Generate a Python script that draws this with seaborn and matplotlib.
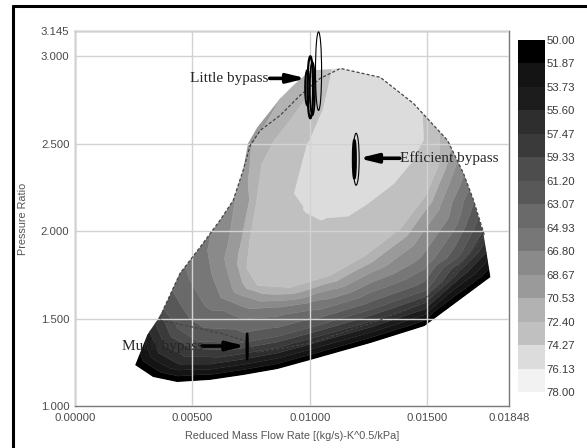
import numpy as np
import matplotlib
matplotlib.use("Agg")
import matplotlib.pyplot as plt
import matplotlib.tri as mtri
from matplotlib.colors import ListedColormap, BoundaryNorm
from matplotlib.cm import ScalarMappable
from matplotlib.patches import Polygon, Ellipse
from matplotlib.lines import Line2D
import seaborn as sns

sns.set_theme(style="white")
plt.rcParams["font.family"] = ["Liberation Sans", "DejaVu Sans"]

# ---------------------------------------------------------------- data
# isentropic efficiency bands (%)
eff_levels = [50.00, 51.87, 53.73, 55.60, 57.47, 59.33, 61.20, 63.07,
              64.93, 66.80, 68.67, 70.53, 72.40, 74.27, 76.13, 78.00]

# compressor map outline: reduced mass flow, pressure ratio, efficiency
outline_flow = [0.00256, 0.00332, 0.00435, 0.00575, 0.00716, 0.00861, 0.01002,
                0.01258, 0.01488, 0.01769, 0.01739, 0.01697, 0.01654, 0.01586,
                0.01441, 0.01300, 0.01130, 0.01002, 0.00934, 0.00874, 0.00776,
                0.00737, 0.00716, 0.00674, 0.00618, 0.00533, 0.00448, 0.00375,
                0.00350, 0.00307]
outline_pr = [1.234, 1.166, 1.137, 1.149, 1.177, 1.211, 1.263, 1.360, 1.457,
              1.737, 1.989, 2.177, 2.331, 2.520, 2.731, 2.880, 2.931, 2.920,
              2.840, 2.760, 2.594, 2.503, 2.349, 2.177, 2.063, 1.909, 1.760,
              1.549, 1.491, 1.406]
outline_eff = [50.0, 50.0, 50.0, 50.0, 50.0, 50.0, 50.0, 50.0, 50.0, 50.0,
               59.0, 63.3, 67.0, 71.5, 75.3, 75.8, 75.2, 72.0, 71.0, 70.5,
               70.0, 70.0, 69.5, 68.5, 67.5, 66.0, 64.5, 61.0, 58.0, 54.5]

# iso-efficiency traces inside the map
flow_56 = [0.00320, 0.00362, 0.00448, 0.00575, 0.00716, 0.00861, 0.01002,
           0.01258, 0.01488, 0.01662, 0.01752]
pr_56 = [1.434, 1.309, 1.246, 1.246, 1.274, 1.309, 1.360, 1.457, 1.560,
         1.766, 1.891]

flow_62 = [0.00388, 0.00448, 0.00533, 0.00716, 0.00861, 0.01002, 0.01258,
           0.01488, 0.01620, 0.01709]
pr_62 = [1.589, 1.463, 1.389, 1.377, 1.411, 1.463, 1.566, 1.674, 1.857, 2.114]

flow_66 = [0.00554, 0.00597, 0.00725, 0.00861, 0.01002, 0.01258, 0.01488,
           0.01607, 0.01667]
pr_66 = [1.749, 1.606, 1.537, 1.549, 1.577, 1.680, 1.823, 2.051, 2.286]

flow_695 = [0.00725, 0.00695, 0.00669, 0.00703, 0.00810, 0.00959, 0.01130,
            0.01279, 0.01428, 0.01535, 0.01586, 0.01616]
pr_695 = [2.177, 1.977, 1.823, 1.663, 1.617, 1.629, 1.697, 1.800, 1.949,
          2.149, 2.320, 2.434]

flow_725 = [0.01010, 0.00938, 0.00853, 0.00797, 0.00776, 0.00746, 0.00733,
            0.00780, 0.00917, 0.01087, 0.01236, 0.01385, 0.01492, 0.01547,
            0.01547]
pr_725 = [2.794, 2.663, 2.520, 2.377, 2.177, 1.949, 1.789, 1.691, 1.680,
          1.749, 1.863, 2.017, 2.206, 2.377, 2.577]

flow_744 = [0.01057, 0.01002, 0.00946, 0.00989, 0.01057, 0.01159, 0.01245,
            0.01356, 0.01428, 0.01479]
pr_744 = [2.674, 2.503, 2.217, 2.137, 2.091, 2.103, 2.177, 2.291, 2.406, 2.531]

peak_flow = [0.01172, 0.01215, 0.01343, 0.01087]
peak_pr = [2.634, 2.406, 2.691, 2.349]
peak_eff = [75.8, 75.8, 75.8, 75.6]

# high-efficiency operating region (dashed)
region_flow = [0.00362, 0.00503, 0.00618, 0.00716, 0.00776, 0.00861, 0.01002,
               0.01300, 0.01441, 0.01586, 0.01684, 0.01743, 0.01697, 0.01654,
               0.01586, 0.01441, 0.01300, 0.01130, 0.01044, 0.00959, 0.00874,
               0.00789, 0.00746, 0.00716, 0.00674, 0.00618, 0.00533, 0.00448,
               0.00375, 0.00362]
region_pr = [1.491, 1.451, 1.417, 1.377, 1.309, 1.326, 1.360, 1.491, 1.566,
             1.720, 1.874, 1.977, 2.177, 2.331, 2.520, 2.731, 2.880, 2.931,
             2.874, 2.777, 2.663, 2.577, 2.491, 2.349, 2.177, 2.063, 1.909,
             1.760, 1.549, 1.491]

# bypass operating loops: flow range and pressure-ratio range
little_flow_min = [0.01024, 0.00990, 0.01000, 0.00980]
little_flow_max = [0.01050, 0.01014, 0.01022, 0.00998]
little_pr_min = [2.691, 2.646, 2.663, 2.720]
little_pr_max = [3.140, 3.000, 2.966, 2.920]

efficient_flow_min = [0.01184, 0.01184]
efficient_flow_max = [0.01210, 0.01195]
efficient_pr_min = [2.263, 2.303]
efficient_pr_max = [2.560, 2.520]

much_flow_min = [0.00730]
much_flow_max = [0.00736]
much_pr_min = [1.263]
much_pr_max = [1.417]

x_ticks = [0.0, 0.005, 0.010, 0.015, 0.01848]
x_tick_labels = ["0.00000", "0.00500", "0.01000", "0.01500", "0.01848"]
y_ticks = [1.0, 1.5, 2.0, 2.5, 3.0, 3.145]
y_tick_labels = ["1.000", "1.500", "2.000", "2.500", "3.000", "3.145"]

band_grays = ["#000000", "#141414", "#1c1c1c", "#2e2e2e", "#3a3a3a",
              "#4d4d4d", "#585858", "#6a6a6a", "#777777", "#8a8a8a",
              "#9a9a9a", "#b2b2b2", "#c0c0c0", "#dcdcdc", "#f2f2f2"]

# ---------------------------------------------------------------- figure
fig = plt.figure(figsize=(5.87, 4.48), dpi=100)
fig.patch.set_facecolor("white")
ax = fig.add_axes([75 / 587, 42 / 448, 434 / 587, 375 / 448])
ax.set_facecolor("white")

cmap = ListedColormap(band_grays)
norm = BoundaryNorm(eff_levels, cmap.N)

isolines = [(flow_56, pr_56, 56.0), (flow_62, pr_62, 62.0),
            (flow_66, pr_66, 66.0), (flow_695, pr_695, 69.5),
            (flow_725, pr_725, 72.5), (flow_744, pr_744, 74.4)]
all_flow = list(outline_flow) + list(peak_flow)
all_pr = list(outline_pr) + list(peak_pr)
all_eff = list(outline_eff) + list(peak_eff)
for fl, pr, lev in isolines:
    all_flow += list(fl)
    all_pr += list(pr)
    all_eff += [lev] * len(fl)
all_flow = np.array(all_flow)
all_pr = np.array(all_pr)
all_eff = np.array(all_eff)

# triangulate on axis-normalised coordinates so the mesh is not squashed
xlim = (0.0, 0.01848)
ylim = (1.0, 3.145)
norm_tri = mtri.Triangulation((all_flow - xlim[0]) / (xlim[1] - xlim[0]) * 434,
                              (all_pr - ylim[0]) / (ylim[1] - ylim[0]) * 375)
tri = mtri.Triangulation(all_flow, all_pr, triangles=norm_tri.triangles)

cs = ax.tricontourf(tri, all_eff, levels=eff_levels, cmap=cmap,
                    norm=norm, zorder=1, antialiased=True)
cs.set_edgecolor("face")
cs.set_linewidth(0.3)
clip = Polygon(np.column_stack([outline_flow, outline_pr]), closed=True,
               transform=ax.transData)
cs.set_clip_path(clip)

# dashed high-efficiency region
sns.lineplot(x=region_flow, y=region_pr, sort=False, estimator=None, ax=ax,
             color="#444444", lw=0.9, linestyle=(0, (2.5, 1.6)), zorder=3)

# bypass loops
def draw_loops(fmin, fmax, pmin, pmax, widths):
    for a, b, c, d, w in zip(fmin, fmax, pmin, pmax, widths):
        ax.add_patch(Ellipse(((a + b) / 2, (c + d) / 2), b - a, d - c,
                             fill=False, edgecolor="black", lw=w, zorder=4,
                             clip_on=False))

draw_loops(little_flow_min, little_flow_max, little_pr_min, little_pr_max,
           [0.8, 1.6, 1.2, 1.4])
draw_loops(efficient_flow_min, efficient_flow_max, efficient_pr_min,
           efficient_pr_max, [0.8, 1.8])
draw_loops(much_flow_min, much_flow_max, much_pr_min, much_pr_max, [1.4])

arrow_kw = dict(arrowstyle="-|>,head_length=0.9,head_width=0.22", lw=2.6,
                color="black", shrinkA=0, shrinkB=0)
serif = ["Liberation Serif", "DejaVu Serif"]
ax.annotate("", xy=(0.00985, 2.874), xytext=(0.00829, 2.874),
            arrowprops=arrow_kw, zorder=5)
ax.text(0.00825, 2.874, "Little bypass", ha="right", va="center",
        family=serif, fontsize=11, zorder=5)
ax.annotate("", xy=(0.01208, 2.417), xytext=(0.01383, 2.417),
            arrowprops=arrow_kw, zorder=5)
ax.text(0.01385, 2.417, "Efficient bypass", ha="left", va="center",
        family=serif, fontsize=11, zorder=5)
ax.annotate("", xy=(0.00727, 1.343), xytext=(0.00540, 1.343),
            arrowprops=arrow_kw, zorder=5)
ax.text(0.00545, 1.343, "Much bypass", ha="right", va="center",
        family=serif, fontsize=11, zorder=5)

# axes styling
ax.set_xlim(*xlim)
ax.set_ylim(*ylim)
ax.set_xticks(x_ticks)
ax.set_xticklabels(x_tick_labels)
ax.set_yticks(y_ticks)
ax.set_yticklabels(y_tick_labels)
ax.tick_params(axis="both", length=0, labelsize=8.2, labelcolor="#4a4a4a")
ax.tick_params(axis="x", pad=5)
ax.tick_params(axis="y", pad=4)
ax.set_axisbelow(False)
ax.grid(True, color="#d2d2d2", lw=1.0, zorder=2)
for sp in ax.spines.values():
    sp.set_visible(True)
    sp.set_color("#7a7a7a")
    sp.set_linewidth(1.0)
ax.set_xlabel("Reduced Mass Flow Rate [(kg/s)-K^0.5/kPa]", fontsize=7.8,
              color="#555555", labelpad=6)
ax.set_ylabel("Pressure Ratio", fontsize=7.8, color="#555555", labelpad=9)

# colour scale
cax = fig.add_axes([518 / 587, 56 / 448, 27 / 587, 352 / 448])
cb = fig.colorbar(ScalarMappable(norm=norm, cmap=cmap), cax=cax,
                  boundaries=eff_levels, ticks=eff_levels, spacing="uniform")
cb.outline.set_visible(False)
cax.invert_yaxis()
cax.set_yticklabels([f"{v:.2f}" for v in eff_levels])
cax.tick_params(length=0, labelsize=8.2, labelcolor="#3a3a3a", pad=1)

# figure frame
fig.add_artist(Line2D([13 / 587, 13 / 587], [0, 1 - 6 / 448], color="black",
                      lw=2.2, transform=fig.transFigure))
fig.add_artist(Line2D([13 / 587, 1], [1 - 6 / 448, 1 - 6 / 448], color="black",
                      lw=2.2, transform=fig.transFigure))

fig.savefig("out.png", dpi=100)
